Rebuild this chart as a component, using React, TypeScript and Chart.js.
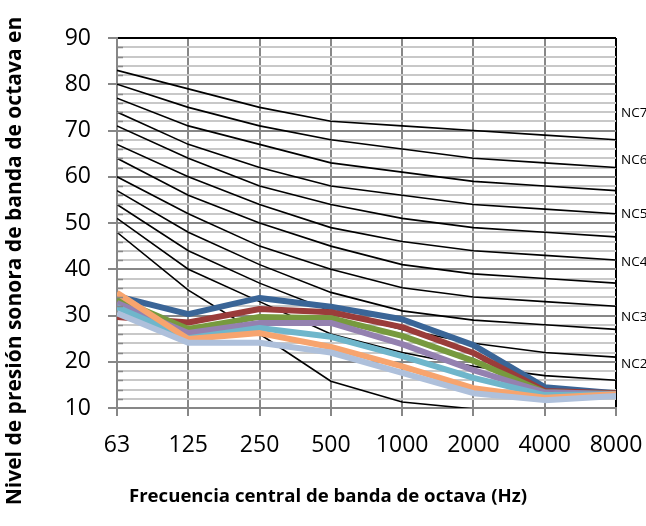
import React, { useEffect, useRef } from "react";
import { Chart, registerables } from "chart.js";

Chart.register(...registerables);

const categories = ["63", "125", "250", "500", "1000", "2000", "4000", "8000"];

// NC reference curves (dB)
const nc70 = [83, 79, 75, 72, 71, 70, 69, 68];
const nc65 = [80, 75, 71, 68, 66, 64, 63, 62];
const nc60 = [77, 71, 67, 63, 61, 59, 58, 57];
const nc55 = [74, 67, 62, 58, 56, 54, 53, 52];
const nc50 = [71, 64, 58, 54, 51, 49, 48, 47];
const nc45 = [67, 60, 54, 49, 46, 44, 43, 42];
const nc40 = [64, 56, 50, 45, 41, 39, 38, 37];
const nc35 = [60, 52, 45, 40, 36, 34, 33, 32];
const nc30 = [57, 48, 41, 35, 31, 29, 28, 27];
const nc25 = [54, 44, 37, 31, 27, 24, 22, 21];
const nc20 = [51, 40, 33, 26, 22, 19, 17, 16];
const nc15 = [48, 35.5, 26, 15.8, 11.3, 9.8, null, null];

// Measured series
const serie1 = [34.2, 30.3, 33.8, 31.9, 29.2, 23.6, 14.5, 13.2];
const serie2 = [29.7, 28.5, 31.4, 30.7, 27.5, 21.9, 13.7, 13.2];
const serie3 = [33.6, 27.1, 29.7, 29.4, 25.6, 20.2, 13.4, 13.0];
const serie4 = [32.7, 26.2, 28.4, 28.4, 23.8, 18.2, 13.4, 13.0];
const serie5 = [31.8, 25.1, 27.3, 25.4, 21.2, 16.5, 12.8, 13.0];
const serie6 = [34.9, 24.9, 26.2, 23.2, 19.0, 14.3, 12.2, 13.0];
const serie7 = [30.5, 24.1, 24.1, 22.0, 17.6, 13.2, 11.7, 12.6];

const ncLabels = ["NC7", "NC6", "NC5", "NC4", "NC3", "NC2"];
const ncLabelValues = [73.8, 63.6, 52, 41.5, 29.7, 19.5];

const xTitle = "Frecuencia central de banda de octava (Hz)";
const yTitle = "Nivel de presión sonora de banda de octava en";

const FONT = '"Open Sans", "Noto Sans", sans-serif';

const ncCurves = [nc70, nc65, nc60, nc55, nc50, nc45, nc40, nc35, nc30, nc25, nc20, nc15];
const seriesList = [serie1, serie2, serie3, serie4, serie5, serie6, serie7];
const seriesColors = ["#3A6597", "#9A3C3A", "#779A3E", "#9481B0", "#6FB6CB", "#F7A46E", "#AEC0DB"];

const overlayPlugin = {
  id: "overlay",
  afterDraw(chart: any) {
    const { ctx, chartArea, scales } = chart;
    const y = scales.y;
    ctx.save();
    // inner minor tick marks on the value axis
    ctx.strokeStyle = "#878787";
    ctx.lineWidth = 1.5;
    for (let v = 12; v < 90; v += 2) {
      if (v % 10 === 0) continue;
      const py = Math.round(y.getPixelForValue(v)) + 0.5;
      ctx.beginPath();
      ctx.moveTo(chartArea.left, py);
      ctx.lineTo(chartArea.left + 6, py);
      ctx.stroke();
    }
    // NC labels
    ctx.fillStyle = "#000";
    ctx.font = `13.5px ${FONT}`;
    ctx.textAlign = "left";
    ctx.textBaseline = "middle";
    ncLabels.forEach((t, i) => {
      ctx.fillText(t, chartArea.right + 5, y.getPixelForValue(ncLabelValues[i]));
    });
    // axis titles
    ctx.font = `bold 18.6px ${FONT}`;
    ctx.textAlign = "center";
    ctx.fillText(xTitle, 328, 497);
    ctx.translate(15, 261);
    ctx.rotate(-Math.PI / 2);
    ctx.font = `bold 21px ${FONT}`;
    ctx.fillText(yTitle, 0, 0);
    ctx.restore();
  },
};

export default function App() {
  const ref = useRef<HTMLCanvasElement | null>(null);

  useEffect(() => {
    if (!ref.current) return;
    const datasets: any[] = [];
    seriesList.forEach((s, i) => {
      datasets.push({
        label: `Serie ${i + 1}`,
        data: s,
        borderColor: seriesColors[i],
        backgroundColor: seriesColors[i],
        borderWidth: 6,
        pointRadius: 0,
        borderJoinStyle: "round",
        fill: false,
        clip: 0,
        order: 10 - i,
      });
    });
    ncCurves.forEach((s, i) => {
      datasets.push({
        label: `NC ${i}`,
        data: s,
        borderColor: "#000",
        backgroundColor: "#000",
        borderWidth: 1.6,
        pointRadius: 0,
        fill: false,
        clip: 0,
        spanGaps: false,
        order: 20,
      });
    });

    const chart = new Chart(ref.current, {
      type: "line",
      data: { labels: categories, datasets },
      options: {
        animation: false,
        responsive: false,
        maintainAspectRatio: false,
        layout: { padding: { top: 38, right: 30, left: 0, bottom: 0 } },
        plugins: { legend: { display: false }, tooltip: { enabled: false } },
        scales: {
          x: {
            type: "category",
            offset: false,
            afterFit: (s: any) => {
              s.height = 118;
              s.paddingLeft = 0;
              s.paddingRight = 0;
            },
            grid: {
              color: (c: any) => (c.index === categories.length - 1 ? "#000" : "#878787"),
              lineWidth: 2,
              tickLength: 8,
              tickColor: "#878787",
            },
            border: { color: "#878787", width: 2 },
            ticks: {
              color: "#000",
              font: { family: FONT, size: 23 },
              padding: 16,
              maxRotation: 0,
              autoSkip: false,
            },
          },
          y: {
            min: 10,
            max: 90,
            afterFit: (s: any) => {
              s.width = 117;
              s.paddingTop = 0;
              s.paddingBottom = 0;
            },
            grid: {
              color: (c: any) => {
                const v = c.tick ? c.tick.value : 0;
                if (v === 90) return "#000";
                return v % 10 === 0 ? "#878787" : "#C8C8C8";
              },
              lineWidth: 2,
              tickLength: 9,
              tickColor: (c: any) => {
                const v = c.tick ? c.tick.value : 0;
                return v % 10 === 0 ? "#878787" : "rgba(0,0,0,0)";
              },
            },
            border: { color: "#878787", width: 2 },
            ticks: {
              stepSize: 2,
              autoSkip: false,
              color: "#000",
              font: { family: FONT, size: 23 },
              padding: 17,
              callback: (v: any) => (Number(v) % 10 === 0 ? String(v) : ""),
            },
          },
        },
      },
      plugins: [overlayPlugin],
    });
    return () => chart.destroy();
  }, []);

  return (
    <div style={{ position: "absolute", left: 0, top: 0, width: 646, height: 526, background: "#fff" }}>
      <canvas ref={ref} width={646} height={526} style={{ width: 646, height: 526, display: "block" }} />
    </div>
  );
}
